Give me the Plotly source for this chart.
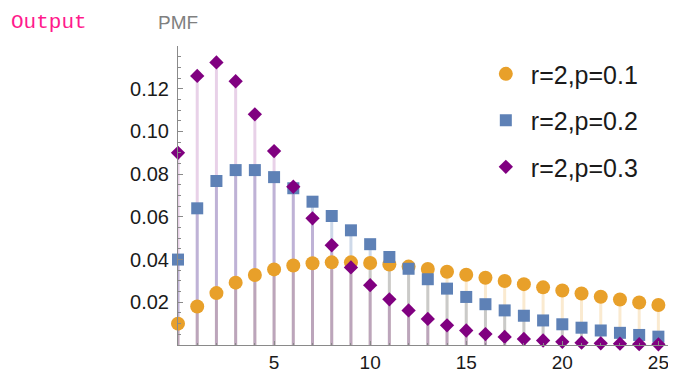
import plotly.graph_objects as go

k = list(range(26))
pmf_p01 = [0.0100, 0.0180, 0.0243, 0.0292, 0.0328, 0.0354, 0.0372, 0.0383, 0.0387, 0.0387,
           0.0384, 0.0377, 0.0367, 0.0356, 0.0343, 0.0329, 0.0315, 0.0300, 0.0285, 0.0270,
           0.0255, 0.0241, 0.0226, 0.0213, 0.0199, 0.0187]
pmf_p02 = [0.0400, 0.0640, 0.0768, 0.0819, 0.0819, 0.0786, 0.0734, 0.0671, 0.0604, 0.0537,
           0.0472, 0.0412, 0.0357, 0.0308, 0.0264, 0.0225, 0.0191, 0.0162, 0.0137, 0.0115,
           0.0097, 0.0081, 0.0068, 0.0057, 0.0047, 0.0039]
pmf_p03 = [0.0900, 0.1260, 0.1323, 0.1235, 0.1080, 0.0908, 0.0741, 0.0593, 0.0467, 0.0363,
           0.0280, 0.0214, 0.0162, 0.0122, 0.0092, 0.0068, 0.0051, 0.0038, 0.0028, 0.0021,
           0.0015, 0.0011, 0.0008, 0.0006, 0.0004, 0.0003]
names = ["r=2,p=0.1", "r=2,p=0.2", "r=2,p=0.3"]
series = [pmf_p01, pmf_p02, pmf_p03]
colors = ["#E8A02A", "#5E81B6", "#800080"]
stem_colors = ["rgba(232,160,42,0.22)", "rgba(94,129,182,0.30)", "rgba(128,0,128,0.18)"]
symbols = ["circle", "square", "diamond"]
sizes = [14, 12, 11]
y_ticks = [0.02, 0.04, 0.06, 0.08, 0.10, 0.12]
x_ticks = [5, 10, 15, 20, 25]

fig = go.Figure()

# stems
for vals, sc in zip(series, stem_colors):
    xs, ys = [], []
    for kk, v in zip(k, vals):
        xs += [kk, kk, None]
        ys += [0, v, None]
    fig.add_trace(go.Scatter(x=xs, y=ys, mode="lines", line=dict(color=sc, width=3),
                             showlegend=False, hoverinfo="skip", cliponaxis=False))

# points
for i, (vals, name, c, sym, s) in enumerate(zip(series, names, colors, symbols, sizes)):
    fig.add_trace(go.Scatter(x=k, y=vals, mode="markers", name=name,
                             marker=dict(color=c, symbol=sym, size=s, line=dict(width=0)),
                             cliponaxis=False, legendgroup=name))

# page body adds an 8px offset; figure is sized to fit the window
W, H = 668, 362
L, R, T, B = 170, 8, 38, 25
fig.update_layout(
    width=W, height=H,
    margin=dict(l=L, r=R, t=T, b=B, pad=0, autoexpand=False),
    paper_bgcolor="white", plot_bgcolor="white",
    font=dict(family="Liberation Sans, Arial, sans-serif", size=20, color="#1a1a1a"),
    legend=dict(x=0.618, y=0.983, xanchor="left", yanchor="top",
                font=dict(size=25, color="#1a1a1a"), tracegroupgap=11,
                bgcolor="rgba(0,0,0,0)", itemwidth=40),
    showlegend=True,
)
fig.update_xaxes(
    range=[0, 25.5], showgrid=False, zeroline=False, showline=True, automargin=False,
    linecolor="#8a8a8a", linewidth=1,
    tickvals=x_ticks, ticktext=[str(v) for v in x_ticks],
    ticks="inside", ticklen=4, tickcolor="#8a8a8a", ticklabelstandoff=0,
    tickfont=dict(size=19),
    minor=dict(dtick=1, tick0=0, ticks="inside", ticklen=2, tickcolor="#8a8a8a"),
)
fig.update_yaxes(
    range=[0, 0.140], showgrid=False, zeroline=False, showline=True, automargin=False,
    linecolor="#8a8a8a", linewidth=1,
    tickvals=y_ticks, ticktext=["%.2f" % v for v in y_ticks],
    ticks="inside", ticklen=5, tickcolor="#8a8a8a", ticklabelstandoff=4,
    minor=dict(dtick=0.005, tick0=0, ticks="inside", ticklen=3, tickcolor="#8a8a8a"),
)
fig.add_annotation(text="PMF", xref="paper", yref="paper", x=0, y=1, yshift=24,
                   xanchor="center", yanchor="middle", showarrow=False,
                   font=dict(size=19, color="#808080"))
fig.add_annotation(text="Output", xref="paper", yref="paper",
                   x=-L / (W - L - R), y=1, xshift=1, yshift=24,
                   xanchor="left", yanchor="middle", showarrow=False,
                   font=dict(family="Liberation Mono, DejaVu Sans Mono, monospace",
                             size=21, color="#FF1A8C"))

fig.write_html("out.html")
